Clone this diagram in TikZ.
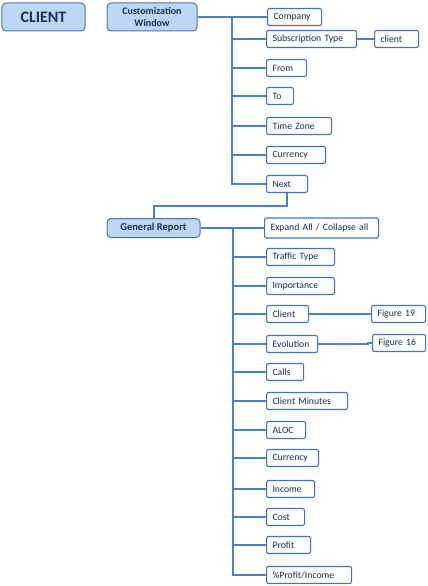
\documentclass[tikz,border=0pt]{standalone}
\usepackage{fontspec}
\setmainfont{Carlito}
\definecolor{lineblue}{RGB}{79,129,189}
\definecolor{boxblue}{RGB}{70,114,180}
\definecolor{headfill}{RGB}{188,216,245}
\definecolor{navy}{RGB}{23,45,95}
\begin{document}
\begin{tikzpicture}[x=1bp,y=-1bp,
  head/.style={draw=boxblue, line width=1bp, fill=headfill, rounded corners=4bp,
    text=navy, font=\bfseries, align=center, inner sep=0pt},
  leaf/.style={draw=boxblue, line width=1.1bp, fill=white, rounded corners=2bp,
    text=navy, font=\fontsize{9.7bp}{11bp}\selectfont, anchor=west, align=left,
    inner xsep=6bp, inner ysep=0pt, minimum height=17bp},
  conn/.style={draw=lineblue, line width=2bp}]
\useasboundingbox (0,0) rectangle (427,586);

% header boxes
\node[head, minimum width=83bp, minimum height=28bp, font=\bfseries\fontsize{16bp}{18bp}\selectfont] (client) at (43.5,17) {CLIENT};
\node[head, minimum width=90bp, minimum height=28bp, font=\bfseries\fontsize{10bp}{11.5bp}\selectfont] (cw) at (152,17) {Customization\\Window};
\node[head, minimum width=93bp, minimum height=19bp, font=\bfseries\fontsize{10.5bp}{12bp}\selectfont] (gr) at (153.5,228) {General Report};

% customization window items
\node[leaf, text width=42bp] (company) at (267,17) {Company};
\node[leaf, text width=78bp] (subtype) at (266,39) {Subscription Type};
\node[leaf, text width=32bp] (clientv) at (374,39) {client};
\node[leaf, text width=28bp] (from) at (266,68) {From};
\node[leaf, text width=15bp] (to) at (266,96) {To};
\node[leaf, text width=53bp] (tz) at (266,126) {Time Zone};
\node[leaf, text width=47bp] (cur1) at (266,155) {Currency};
\node[leaf, text width=29bp] (next) at (266,184) {Next};

% general report items
\node[leaf, text width=102bp, minimum height=20bp] (expand) at (264,228) {Expand All / Collapse all};
\node[leaf, text width=56bp] (traffic) at (266,257) {Traffic Type};
\node[leaf, text width=56bp] (import) at (266,286) {Importance};
\node[leaf, text width=30bp] (cl) at (266,314) {Client};
\node[leaf, text width=42bp] (fig19) at (371,314) {Figure 19};
\node[leaf, text width=39bp] (evo) at (266,344) {Evolution};
\node[leaf, text width=41bp] (fig16) at (372,343) {Figure 16};
\node[leaf, text width=25bp] (calls) at (266,372) {Calls};
\node[leaf, text width=69bp] (cmin) at (266,401) {Client Minutes};
\node[leaf, text width=27bp] (aloc) at (266,430) {ALOC};
\node[leaf, text width=40bp] (cur2) at (266,458) {Currency};
\node[leaf, text width=36bp] (income) at (266,489) {Income};
\node[leaf, text width=26bp] (cost) at (266,517) {Cost};
\node[leaf, text width=32bp] (profit) at (266,545) {Profit};
\node[leaf, text width=73bp] (pct) at (266,575) {\%Profit/Income};

% connectors - customization window
\coordinate (t1) at (232,17);
\draw[conn] (cw.east) -- (company.west);
\draw[conn] (t1) |- (next.west);
\foreach \n in {subtype,from,to,tz,cur1}
  \draw[conn] (t1 |- \n.west) -- (\n.west);
\draw[conn] (subtype.east) -- (clientv.west);

% next -> general report
\coordinate (mid) at (0,206);
\draw[conn] (next.south) -- (next.south |- mid) -- (gr.north |- mid) -- (gr.north);

% connectors - general report
\coordinate (t2) at (233,228);
\draw[conn] (gr.east) -- (expand.west);
\draw[conn] (t2) |- (pct.west);
\foreach \n in {traffic,import,cl,evo,calls,cmin,aloc,cur2,income,cost,profit}
  \draw[conn] (t2 |- \n.west) -- (\n.west);
\draw[conn] (cl.east) -- (fig19.west);
\draw[conn] (evo.east) -- ++(50,0) |- (fig16.west);
\end{tikzpicture}
\end{document}
